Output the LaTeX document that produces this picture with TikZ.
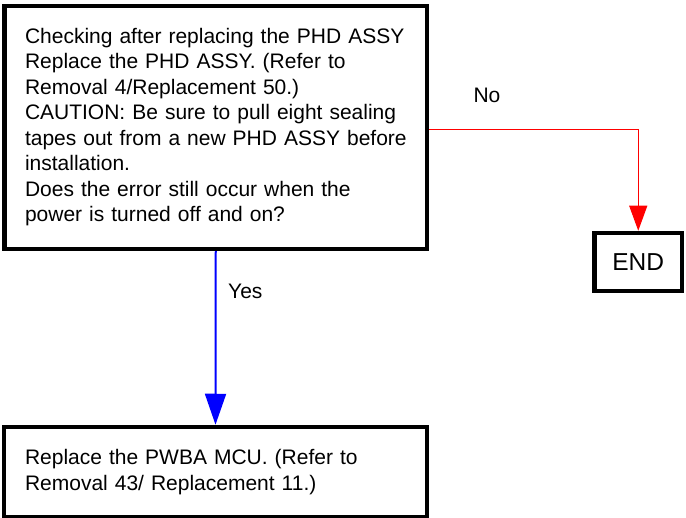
\documentclass[tikz,border=0pt]{standalone}
\usepackage{fontspec}
\setmainfont{Liberation Sans}
\usetikzlibrary{arrows.meta}
\begin{document}
\begin{tikzpicture}[x=1pt,y=-1pt,
  boxstyle/.style={draw=black, line width=4.5pt, rectangle, fill=white,
    font=\fontsize{21}{25.5}\selectfont, align=left},
  lbl/.style={font=\fontsize{21}{25.5}\selectfont, inner sep=0pt},
  noline/.style={draw=red, line width=1pt, -{Triangle[length=25pt,width=18pt]}},
  yesline/.style={draw=blue, line width=2pt, -{Triangle[length=31pt,width=21pt]}}]
\useasboundingbox (0,0) rectangle (686,518);
\node[boxstyle, text width=381.5pt, inner xsep=20.5pt, inner ysep=0pt,
  minimum width=422.5pt, minimum height=243pt] (top) at (215.75,127.3)
  {\mbox{Checking after replacing the PHD ASSY}\\
   \mbox{Replace the PHD ASSY. (Refer to}\\
   \mbox{Removal 4/Replacement 50.)}\\
   \mbox{CAUTION: Be sure to pull eight sealing}\\
   \mbox{tapes out from a new PHD ASSY before}\\
   \mbox{installation.}\\
   \mbox{Does the error still occur when the}\\
   \mbox{power is turned off and on?}};
\node[boxstyle, text width=381pt, inner xsep=21pt, inner ysep=0pt,
  minimum width=423pt, minimum height=90pt] (bot) at (215.5,472)
  {\mbox{Replace the PWBA MCU. (Refer to}\\
   \mbox{Removal 43/ Replacement 11.)}};
\node[boxstyle, align=center, font=\fontsize{24.5}{29}\selectfont,
  minimum width=87.5pt, minimum height=58pt,
  inner sep=0pt] (end) at (638.25,262) {END};
\draw[noline] ([yshift=-1.8pt]top.east) -| (end.north);
\draw[yesline] (top.south) -- (bot.north);
\node[lbl, anchor=base] (no) at (487,103) {No};
\node[lbl, anchor=base west] (yes) at (228,299) {Yes};
\end{tikzpicture}
\end{document}
